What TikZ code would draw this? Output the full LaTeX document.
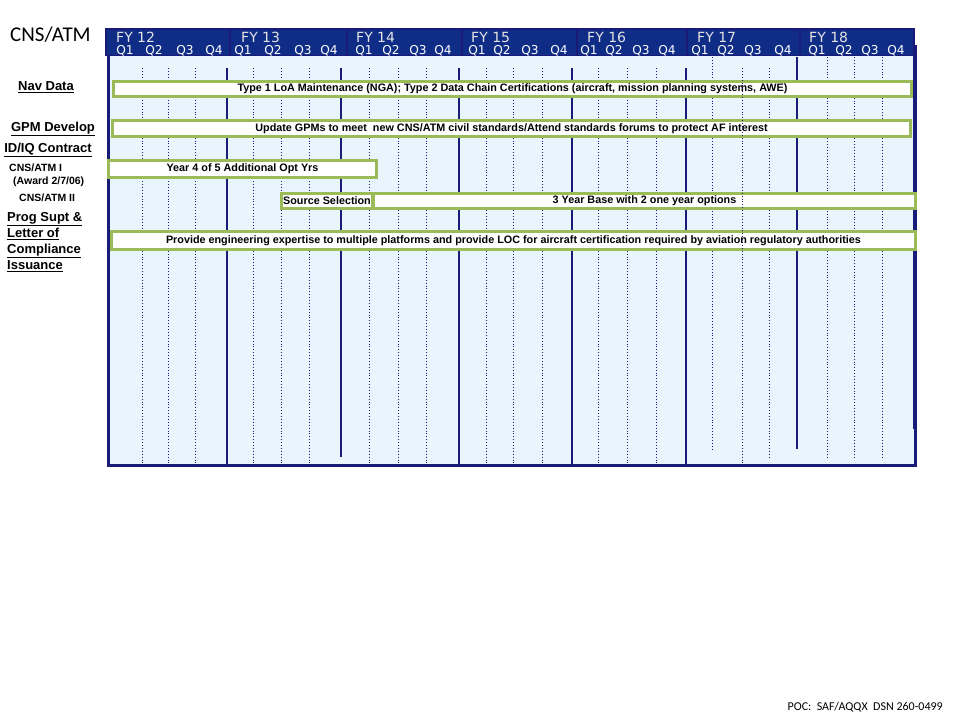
\documentclass[tikz,border=0pt]{standalone}
\usepackage{fontspec}
\setmainfont{Liberation Sans}
\newfontfamily\hdrfont{DejaVu Sans}
\newfontfamily\califont{Carlito}
\definecolor{navy}{HTML}{1A1A78}
\definecolor{hdrblue}{HTML}{0F2C87}
\definecolor{chartbg}{HTML}{E8F5FC}
\definecolor{barline}{HTML}{9BBB59}
\definecolor{fygrey}{HTML}{E4E4E4}
\tikzset{
  qline/.style={navy, dotted, line width=0.9pt},
  yline/.style={navy, line width=1.2pt},
  bar/.style={draw=barline, fill=white, line width=2.6pt, inner sep=0pt,
    font=\bfseries\fontsize{10.8}{12}\selectfont, text=black},
  fylab/.style={anchor=base west, text=fygrey, inner sep=0pt, text depth=0pt,
    font=\hdrfont\fontsize{14}{15}\selectfont},
  qlab/.style={anchor=base, text=white, inner sep=0pt, text height=8.5pt,
    font=\hdrfont\fontsize{12.2}{13}\selectfont},
  sidelab/.style={inner sep=0pt, font=\bfseries\fontsize{13}{16}\selectfont},
  smalllab/.style={inner sep=0pt, font=\bfseries\fontsize{10.5}{12}\selectfont},
  hblock/.style={draw=navy, line width=1.5pt, fill=hdrblue}
}
\begin{document}
\begin{tikzpicture}[x=1pt,y=-1pt]
\useasboundingbox (0,0) rectangle (960,720);
\fill[white] (0,0) rectangle (960,720);
% chart background
\fill[chartbg] (108,56) rectangle (915,465);
% quarter lines
\foreach \x/\a/\b in {142/68/464,168/68/464,195/68/464,
                      253/68/464,281/68/464,309/68/464,
                      369/68/464,398/68/464,426/68/464,
                      486/68/464,513/68/464,542/68/464,
                      598/68/464,627/68/464,656/68/464,
                      712/57/450,769/68/457,
                      827/57/460,854/57/460,882/57/460}
  \draw[qline] (\x,\a) -- (\x,\b);
% year lines
\foreach \x/\a/\b in {227/68/464,341/68/457,459/68/464,572/68/464,686/68/464,797/57/449}
  \draw[yline] (\x,\a) -- (\x,\b);
\draw[navy, line width=1pt] (913,56) -- (913,429);
% header
\foreach \l/\r in {106/230,230/347,347/462,462/577,577/687,687/800,800/914}
  \draw[hblock] (\l,28.75) rectangle (\r,55.25);
% chart border
\draw[navy, line width=3pt] (108.5,56) -- (108.5,465.5) -- (915.5,465.5) -- (915.5,45);
% year labels
\node[fylab] (fy12) at (116,42) {FY 12};
\node[fylab] (fy13) at (241,42) {FY 13};
\node[fylab] (fy14) at (356,42) {FY 14};
\node[fylab] (fy15) at (471,42) {FY 15};
\node[fylab] (fy16) at (587,42) {FY 16};
\node[fylab] (fy17) at (697,42) {FY 17};
\node[fylab] (fy18) at (809,42) {FY 18};
% quarter labels
\foreach \x/\q [count=\i] in {125/1,154/2,185/3,214/4,243/1,273/2,303/3,329/4,
   364/1,391/2,418/3,443/4,477/1,502/2,530/3,559/4,589/1,614/2,641/3,667/4,
   700/1,726/2,753/3,783/4,817/1,844/2,870/3,896/4}
  \node[qlab] (q\i) at (\x,54.5) {Q\q};
% bars
\node[bar, minimum width=798pt, minimum height=15.5pt] (nav) at (512.5,89) {Type 1 LoA Maintenance (NGA); Type 2 Data Chain Certifications (aircraft, mission planning systems, AWE)};
\node[bar, minimum width=798pt, minimum height=16pt] (gpm) at (511.5,128.5) {Update GPMs to meet\ \ new CNS/ATM civil standards/Attend standards forums to protect AF interest};
\node[bar, minimum width=268pt, minimum height=17pt] (atm1) at (242.5,169) {Year 4 of 5 Additional Opt Yrs};
\node[bar, minimum width=542pt, minimum height=15.5pt] (base) at (644.5,201) {3 Year Base with 2 one year options};
\node[bar, minimum width=91pt, minimum height=15.5pt] (src) at (327,201) {Source Selection};
\node[bar, minimum width=804pt, minimum height=18pt] (prog) at (513.5,240.5) {Provide engineering expertise to multiple platforms and provide LOC for aircraft certification required by aviation regulatory authorities};
\draw[qline] (742,68) -- (742,464);
% left labels
\node[inner sep=0pt, font=\califont\fontsize{21}{21}\selectfont, anchor=west] (title) at (10,35) {CNS/ATM};
\node[sidelab] (navlab) at (46,87) {\underline{Nav Data}};
\node[sidelab] (gpmlab) at (53,129) {\underline{GPM Develop}};
\node[sidelab] (idiq) at (48,150) {\underline{ID/IQ Contract}};
\node[smalllab, anchor=west] (atm1lab) at (9,168) {CNS/ATM I};
\node[smalllab, anchor=west] (awardlab) at (13,182) {(Award 2/7/06)};
\node[smalllab, anchor=west] (atm2lab) at (19,198) {CNS/ATM II};
\node[sidelab, anchor=north west, align=left] (proglab) at (7,212) {\underline{Prog Supt \&}\\\underline{Letter of}\\\underline{Compliance}\\\underline{Issuance}};
\node[inner sep=0pt, font=\califont\fontsize{12}{12}\selectfont, anchor=east] (poc) at (943,707) {POC:\ \ SAF/AQQX\ \ DSN 260-0499};
\end{tikzpicture}
\end{document}
